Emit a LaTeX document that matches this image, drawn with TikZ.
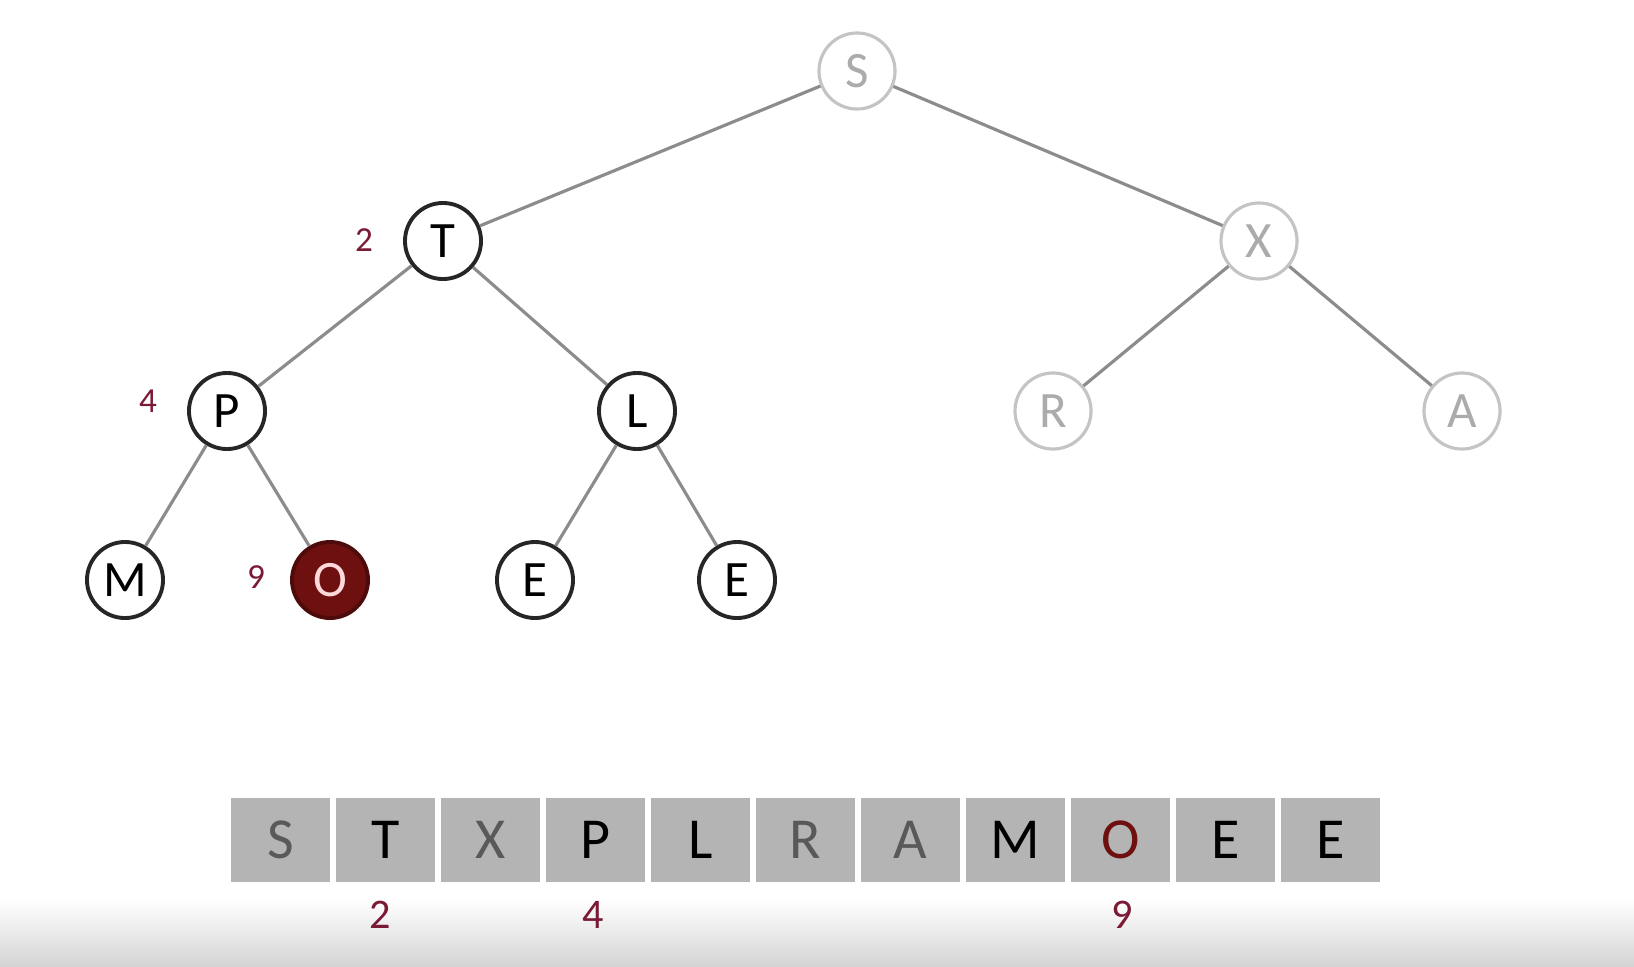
\documentclass[tikz,border=0pt]{standalone}
\usepackage{fontspec}
\setmainfont{Carlito}
\definecolor{heapred}{HTML}{6E1010}
\definecolor{idxred}{HTML}{7A1A35}
\definecolor{cellgray}{HTML}{B4B4B4}
\definecolor{fadegray}{HTML}{C4C4C4}

\begin{document}
\begin{tikzpicture}[
      x=0.01cm, y=-0.01cm,
      key/.style={circle, draw=black!85, line width=1.1pt, fill=white, minimum size=0.76cm, inner sep=0pt, font=\fontsize{14.5}{17}\selectfont},
      faded/.style={key, draw=fadegray, line width=0.9pt, text=black!33},
      hot/.style={key, draw=heapred!70!black, fill=heapred, text=white!85!red},
      cell/.style={draw=white, line width=1pt, fill=cellgray, minimum width=1.03cm, minimum height=0.88cm, inner sep=0pt, font=\fontsize{16.5}{19}\selectfont},
      idx/.style={text=idxred, font=\fontsize{12}{14}\selectfont},
      rank/.style={text=idxred, font=\fontsize{10}{12}\selectfont},
      link/.style={draw=black!45, line width=0.9pt}
    ]
    \useasboundingbox (0,0) rectangle (1634,966);
    \shade[top color=white, bottom color=black!17] (0,900) rectangle (1634,966);

    % tree
    \node[faded] (s) at (857,71) {S};
    \node[key] (t) at (443,241) {T};
    \node[faded] (x) at (1259,241) {X};
    \node[key] (p) at (227,411) {P};
    \node[key] (l) at (637,411) {L};
    \node[faded] (r) at (1053,411) {R};
    \node[faded] (a) at (1462,411) {A};
    \node[key] (m) at (125,580) {M};
    \node[hot] (o) at (330,580) {O};
    \node[key] (e1) at (535,580) {E};
    \node[key] (e2) at (737,580) {E};

    \draw[link] (s) -- (t);
    \draw[link] (s) -- (x);
    \draw[link] (t) -- (p);
    \draw[link] (t) -- (l);
    \draw[link] (x) -- (r);
    \draw[link] (x) -- (a);
    \draw[link] (p) -- (m);
    \draw[link] (p) -- (o);
    \draw[link] (l) -- (e1);
    \draw[link] (l) -- (e2);

    \node[rank] (tpos) at (364,240) {2};
    \node[rank] (ppos) at (148,401) {4};
    \node[rank] (opos) at (256,577) {9};

    % array
    \foreach \ch/\col [count=\i from 0] in {S/black!65, T/black, X/black!65, P/black, L/black, R/black!65, A/black!65, M/black, O/heapred, E/black, E/black}
      \node[cell, text=\col] (c\i) at ({228+105*\i+52.5},840) {\ch};

    \node[idx] (i2) at (380,915) {2};
    \node[idx] (i4) at (593,915) {4};
    \node[idx] (i9) at (1122,915) {9};
  \end{tikzpicture}
\end{document}
